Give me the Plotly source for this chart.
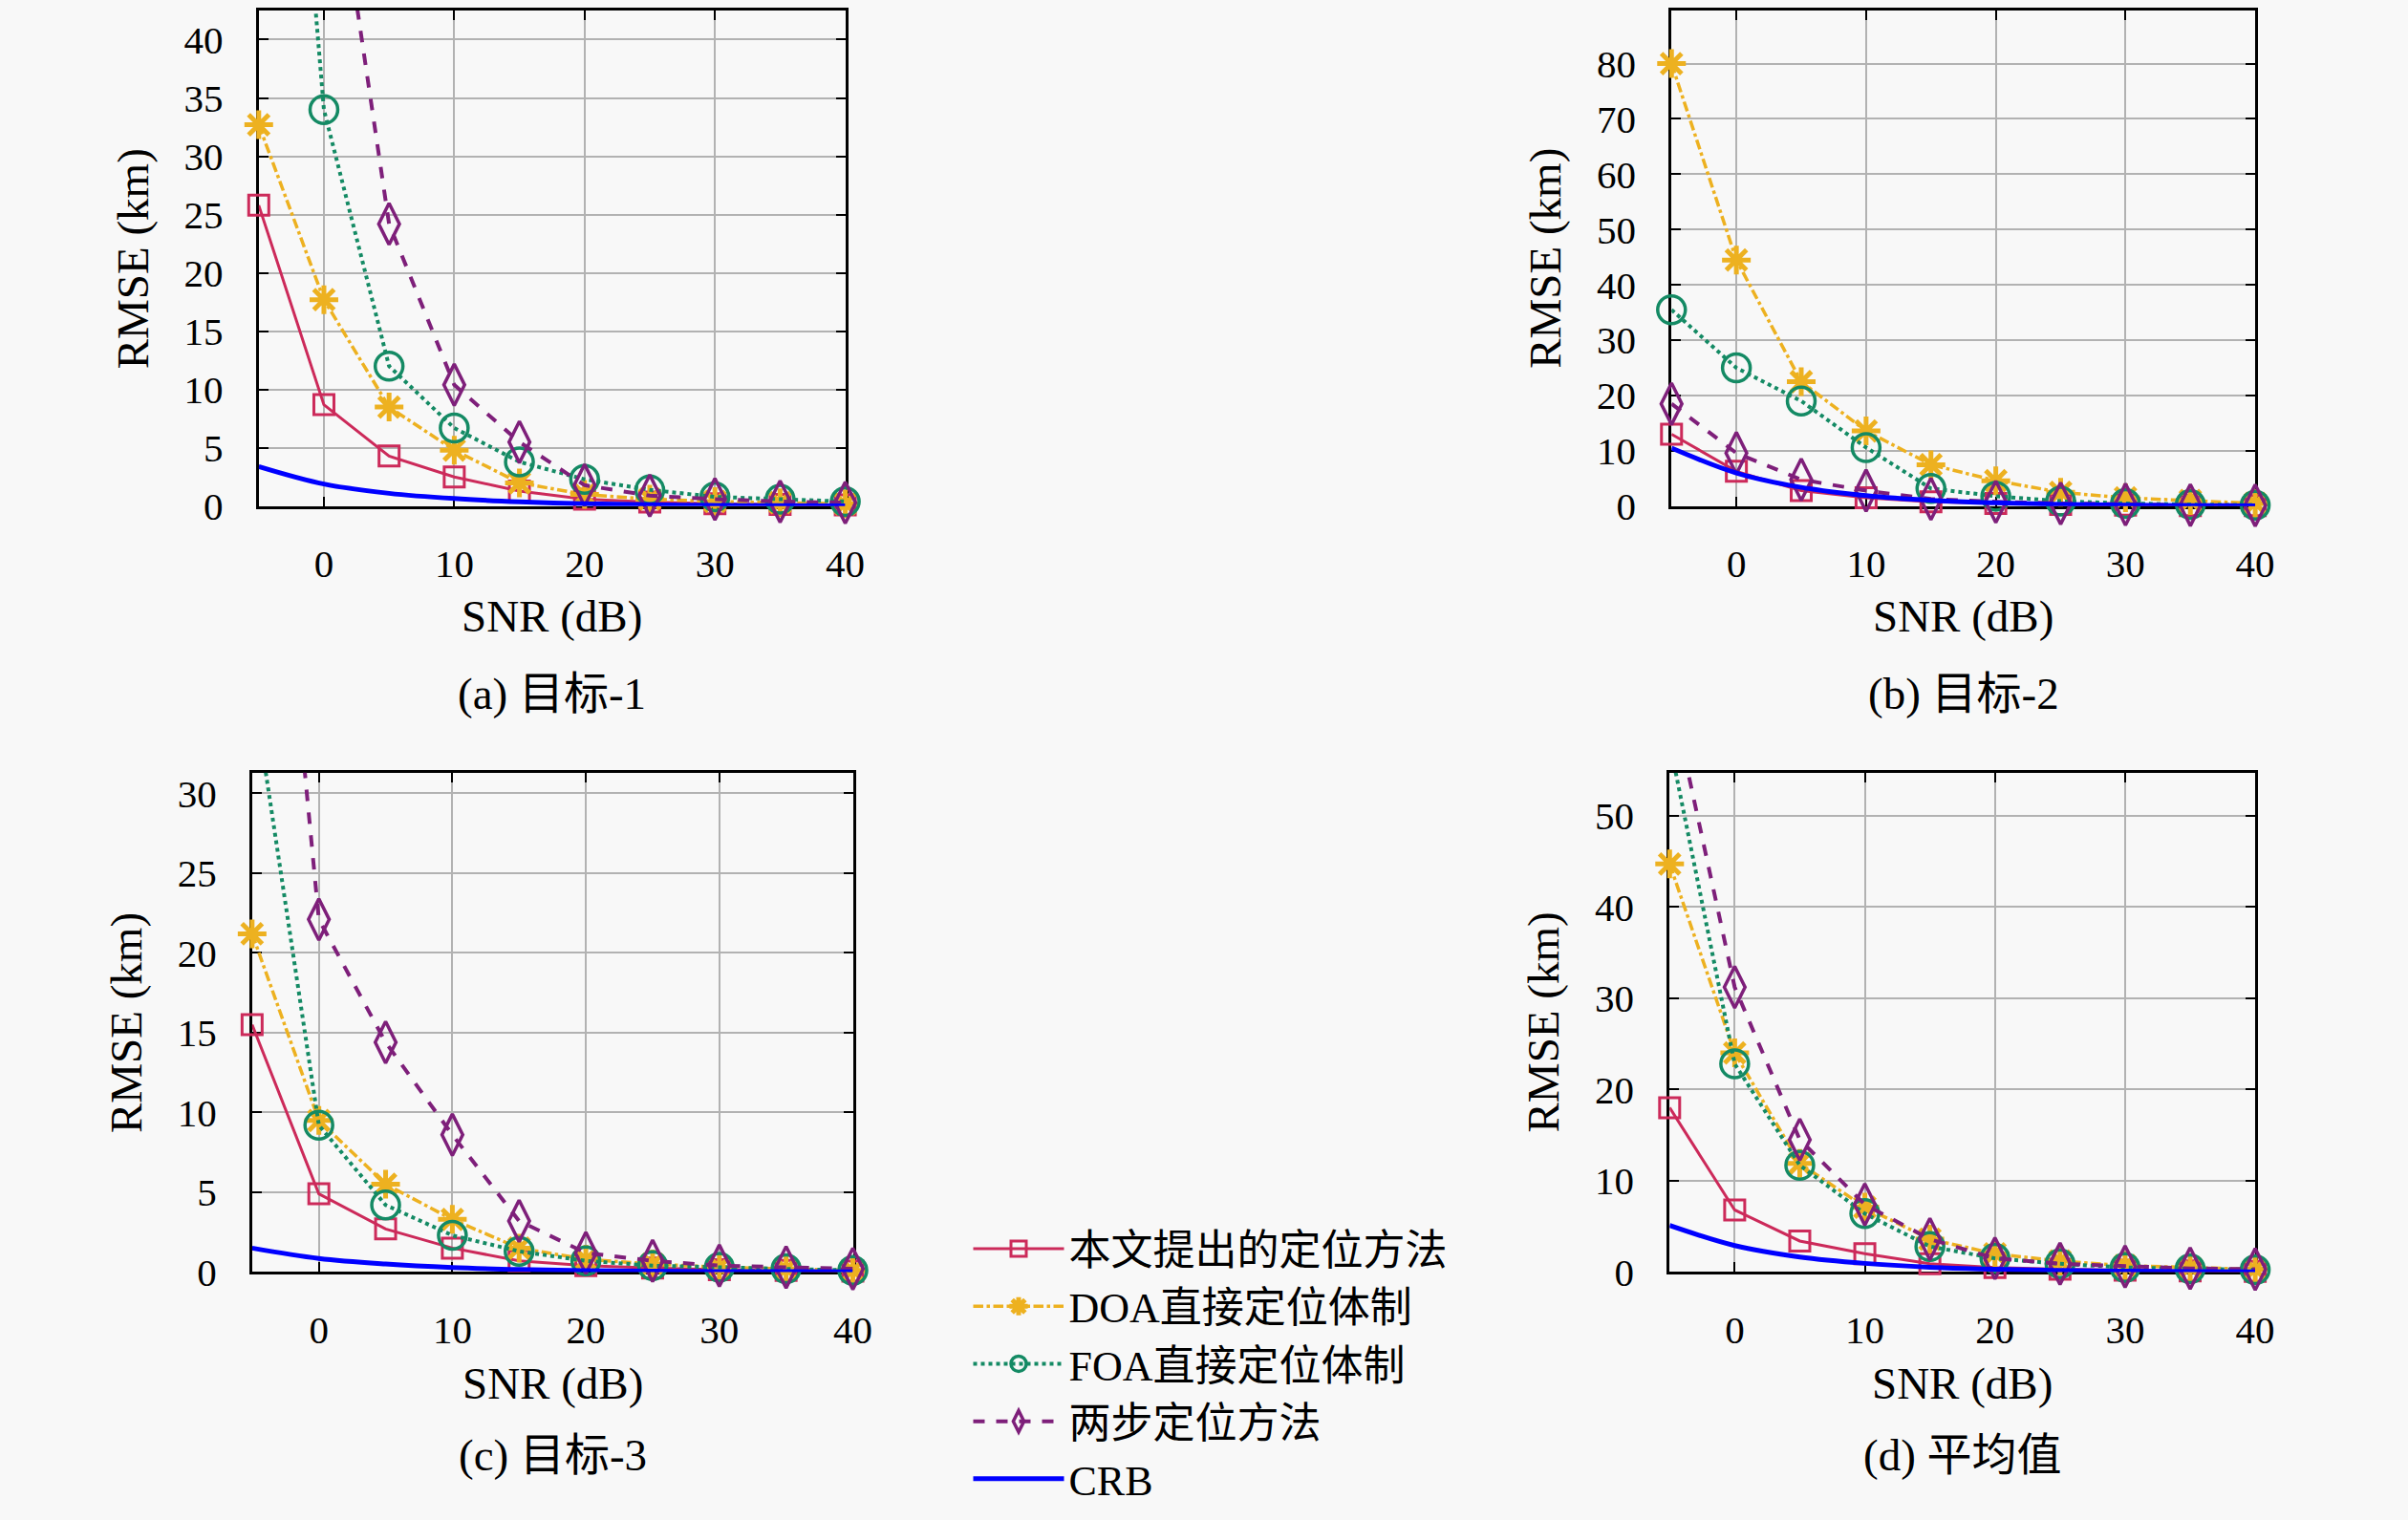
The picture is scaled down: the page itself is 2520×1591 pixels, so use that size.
import plotly.graph_objects as go

# SNR values (dB) shared by every panel
snr = [-5, 0, 5, 10, 15, 20, 25, 30, 35, 40]

# (a) target 1
t1_prop = [25.8, 8.7, 4.3, 2.5, 1.3, 0.6, 0.35, 0.2, 0.15, 0.1]
t1_doa = [32.7, 17.7, 8.5, 4.8, 2.0, 1.0, 0.6, 0.4, 0.3, 0.2]
t1_foa = [101, 34.0, 12.0, 6.7, 3.8, 2.3, 1.4, 0.8, 0.6, 0.4]
t1_two = [109, 62, 24.2, 10.4, 5.5, 1.8, 0.9, 0.6, 0.4, 0.3]
t1_crb = [3.4, 1.9, 1.1, 0.65, 0.38, 0.21, 0.12, 0.07, 0.04, 0.02]

# (b) target 2
t2_prop = [13.0, 6.3, 2.8, 1.5, 0.8, 0.5, 0.3, 0.2, 0.1, 0.1]
t2_doa = [80.0, 44.5, 22.5, 13.6, 7.5, 4.6, 2.5, 1.5, 1.0, 0.5]
t2_foa = [35.5, 25.0, 19.0, 10.6, 3.2, 1.8, 0.9, 0.5, 0.3, 0.2]
t2_two = [18.5, 9.6, 4.8, 2.8, 1.3, 0.8, 0.5, 0.3, 0.2, 0.15]
t2_crb = [10.5, 6.0, 3.4, 1.9, 1.05, 0.6, 0.33, 0.18, 0.1, 0.06]

# (c) target 3
t3_prop = [15.5, 4.9, 2.7, 1.5, 0.7, 0.4, 0.25, 0.15, 0.1, 0.05]
t3_doa = [21.2, 9.5, 5.5, 3.3, 1.5, 0.8, 0.5, 0.3, 0.2, 0.1]
t3_foa = [37, 9.2, 4.2, 2.3, 1.3, 0.7, 0.4, 0.3, 0.2, 0.1]
t3_two = [66, 22.1, 14.4, 8.6, 3.2, 1.2, 0.7, 0.4, 0.3, 0.2]
t3_crb = [1.5, 0.85, 0.5, 0.28, 0.16, 0.09, 0.05, 0.03, 0.02, 0.01]

# (d) average
avg_prop = [18.0, 6.8, 3.4, 2.0, 0.9, 0.5, 0.3, 0.2, 0.12, 0.08]
avg_doa = [44.7, 24.0, 11.9, 7.1, 3.6, 2.0, 1.2, 0.7, 0.5, 0.3]
avg_foa = [58, 22.8, 11.7, 6.4, 2.8, 1.5, 0.9, 0.5, 0.35, 0.25]
avg_two = [64, 31.2, 14.5, 7.4, 3.6, 1.5, 0.9, 0.6, 0.4, 0.3]
avg_crb = [5.1, 2.9, 1.65, 0.95, 0.53, 0.3, 0.17, 0.1, 0.05, 0.03]

series_names = ["本文提出的定位方法", "DOA直接定位体制", "FOA直接定位体制", "两步定位方法", "CRB"]
captions = ["(a) 目标-1", "(b) 目标-2", "(c) 目标-3", "(d) 平均值"]
y_tops = [42.5, 89.6, 31.3, 54.7]
y_dticks = [5, 10, 5, 10]

panels = [
    [t1_prop, t1_doa, t1_foa, t1_two, t1_crb],
    [t2_prop, t2_doa, t2_foa, t2_two, t2_crb],
    [t3_prop, t3_doa, t3_foa, t3_two, t3_crb],
    [avg_prop, avg_doa, avg_foa, avg_two, avg_crb],
]

# styles per series
styles = [
    dict(color="#CC2A5A", dash="solid", width=3, symbol="square-open", size=21, mlw=3),
    dict(color="#EDB120", dash="dashdot", width=3.5, symbol="asterisk-open", size=25, mlw=5),
    dict(color="#148A64", dash="dot", width=4, symbol="circle-open", size=29, mlw=3.5),
    dict(color="#7E1F7A", dash="dash", width=4, symbol="diamond-tall-open", size=31, mlw=3.5),
    dict(color="#0000FF", dash="solid", width=5, symbol=None, size=0, mlw=0),
]

# the page body keeps its 8px margin, so the figure is 16px smaller than the window
OFF = 8
W, H = 2520 - 2 * OFF, 1591 - 2 * OFF
# panel boxes in window pixels: left, right, top, bottom
boxes = [(273, 892, 9, 541), (1764, 2380, 9, 541), (266, 900, 827, 1363), (1762, 2380, 827, 1363)]


def px(v):
    return (v - OFF) / W


def py(v):
    return min(1.0, 1 - (v - OFF) / H)


FONT = "Liberation Serif, Noto Sans CJK SC"
BG = "#f8f8f8"

fig = go.Figure()
layout = dict(
    width=W, height=H, margin=dict(l=0, r=0, t=0, b=0),
    paper_bgcolor=BG, plot_bgcolor=BG,
    font=dict(family=FONT, size=40, color="black"),
    showlegend=True,
)

annotations = []
for p, data in enumerate(panels):
    xa = "x" if p == 0 else f"x{p + 1}"
    ya = "y" if p == 0 else f"y{p + 1}"
    l, r, t, b = boxes[p]
    ytop = y_tops[p]
    for s, vals in enumerate(data):
        st = styles[s]
        # line (clipped to the plot area)
        fig.add_trace(go.Scatter(
            x=snr, y=vals, mode="lines", xaxis=xa, yaxis=ya,
            line=dict(color=st["color"], dash=st["dash"], width=st["width"],
                      shape="spline" if s == 4 else "linear"),
            showlegend=False, hoverinfo="skip",
        ))
        if st["symbol"]:
            fig.add_trace(go.Scatter(
                x=snr, y=[v if v <= ytop else None for v in vals], mode="markers",
                xaxis=xa, yaxis=ya, cliponaxis=False,
                marker=dict(symbol=st["symbol"], size=st["size"], color=st["color"],
                            line=dict(color=st["color"], width=st["mlw"])),
                showlegend=False, hoverinfo="skip",
            ))
    axis_common = dict(
        showline=True, linecolor="black", linewidth=3, mirror="ticks",
        ticks="inside", ticklen=10, tickwidth=2, tickcolor="black",
        showgrid=True, gridcolor="#b2b2b2", gridwidth=2, zeroline=False,
        tickfont=dict(family=FONT, size=41), layer="below traces",
    )
    layout["xaxis" if p == 0 else f"xaxis{p + 1}"] = dict(
        axis_common, domain=[px(l), px(r)], anchor=ya, range=[-5, 40],
        tick0=0, dtick=10, ticklabelstandoff=22,
    )
    layout["yaxis" if p == 0 else f"yaxis{p + 1}"] = dict(
        axis_common, domain=[py(b), py(t)], anchor=xa, range=[0, ytop],
        tick0=0, dtick=y_dticks[p], ticklabelstandoff=26,
    )
    cx = px((l + r) / 2)
    row2 = p >= 2
    txt = dict(xref="paper", yref="paper", showarrow=False, xanchor="center", yanchor="middle",
               font=dict(size=47))
    annotations.append(dict(txt, text="RMSE (km)", textangle=-90,
                            x=px(l - 133), y=py((t + b) / 2)))
    annotations.append(dict(txt, text="SNR (dB)", x=cx, y=py(1482 if row2 else 659)))
    annotations.append(dict(txt, text=captions[p], x=cx, y=py(1559 if row2 else 742)))

# legend entries
for s, name in enumerate(series_names):
    st = styles[s]
    marker = dict(symbol=st["symbol"], size=st["size"], color=st["color"],
                  line=dict(color=st["color"], width=st["mlw"])) if st["symbol"] else None
    fig.add_trace(go.Scatter(
        x=[None], y=[None], name=name, mode="lines+markers" if st["symbol"] else "lines",
        line=dict(color=st["color"], dash=st["dash"], width=st["width"]),
        marker=marker,
    ))

layout["legend"] = dict(
    x=px(1022), y=py(1302), xanchor="left", yanchor="top",
    bgcolor="rgba(0,0,0,0)", font=dict(size=44), itemwidth=95, tracegroupgap=0,
)
layout["annotations"] = annotations
fig.update_layout(**layout)

fig.write_html(
    "out.html",
    config={"displayModeBar": False},
    post_script="document.body.style.background='#f8f8f8';",
)
